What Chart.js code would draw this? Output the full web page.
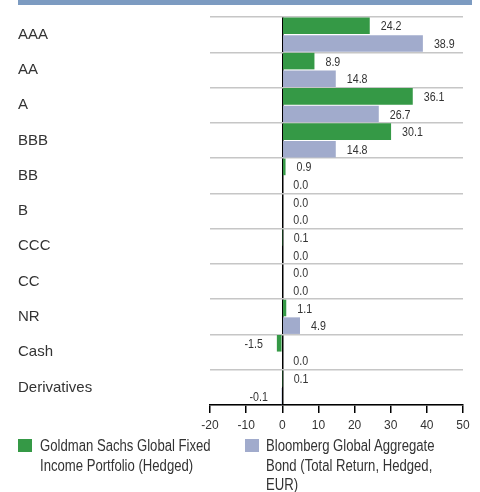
<!DOCTYPE html>
<html>
<head>
<meta charset="utf-8">
<script src="https://cdn.jsdelivr.net/npm/chart.js@4.4.1/dist/chart.umd.min.js"></script>
<style>
    body { margin: 0; background: #fff; }
    #wrap { position: relative; width: 480px; height: 492px; overflow: hidden;
            font-family: 'Liberation Sans', Arial, sans-serif; color: #333; }
    #topbar { position: absolute; left: 18px; top: 0; width: 454px; height: 5px; background: #7c9bc1; }
    #chart-box { position: absolute; left: 0; top: 0; width: 480px; height: 440px; }
    .legend-item { position: absolute; top: 436px; font-size: 16px; line-height: 19.5px; }
    .legend-item .sw { position: absolute; left: 0; top: 3px; width: 14px; height: 13px; }
    .legend-item .txt { position: absolute; white-space: nowrap; transform: scaleX(0.82); transform-origin: 0 0; }
</style>
</head>
<body>
<div id="wrap">
    <div id="topbar"></div>
    <div id="chart-box"><canvas id="bar-chart" width="480" height="440"></canvas></div>
    <div class="legend-item" style="left:18px">
        <div class="sw" style="background:#359946"></div>
        <div class="txt" style="left:22px">Goldman Sachs Global Fixed<br>Income Portfolio (Hedged)</div>
    </div>
    <div class="legend-item" style="left:245px">
        <div class="sw" style="background:#a1abcc"></div>
        <div class="txt" style="left:21px">Bloomberg Global Aggregate<br>Bond (Total Return, Hedged,<br>EUR)</div>
    </div>
</div>
<script>
// dati del grafico
const categorie = ['AAA', 'AA', 'A', 'BBB', 'BB', 'B', 'CCC', 'CC', 'NR', 'Cash', 'Derivatives'];
const portafoglio = [24.2, 8.9, 36.1, 30.1, 0.9, 0.0, 0.1, 0.0, 1.1, -1.5, 0.1];
const benchmark = [38.9, 14.8, 26.7, 14.8, 0.0, 0.0, 0.0, 0.0, 4.9, 0.0, -0.1];
const nomiSerie = ['Goldman Sachs Global Fixed Income Portfolio (Hedged)', 'Bloomberg Global Aggregate Bond (Total Return, Hedged, EUR)'];
const tickMin = -20;
const tickMax = 50;
const tickStep = 10;

const fontFamily = "'Liberation Sans', Arial, sans-serif";
Chart.defaults.font.family = fontFamily;
Chart.defaults.color = '#333';

// etichette dei valori accanto alle barre (testo "stretto" come nel modello)
const stretto = 0.82;
const etichettePlugin = {
    id: 'etichette',
    afterDatasetsDraw(chart) {
        const ctx = chart.ctx;
        ctx.save();
        ctx.font = '13px ' + fontFamily;
        ctx.fillStyle = '#333';
        ctx.textBaseline = 'middle';
        chart.data.datasets.forEach((ds, i) => {
            chart.getDatasetMeta(i).data.forEach((bar, j) => {
                const v = ds.data[j];
                const x = v < 0 ? bar.x - 14 : bar.x + 11;
                ctx.save();
                ctx.translate(x, bar.y + 1);
                ctx.scale(stretto, 1);
                ctx.textAlign = v < 0 ? 'right' : 'left';
                ctx.fillText(v.toFixed(1), 0, 0);
                ctx.restore();
            });
        });
        ctx.restore();
    }
};

new Chart(document.getElementById('bar-chart').getContext('2d'), {
    type: 'bar',
    data: {
        labels: categorie,
        datasets: [
            { label: nomiSerie[0], data: portafoglio, backgroundColor: '#359946' },
            { label: nomiSerie[1], data: benchmark, backgroundColor: '#a1abcc' }
        ]
    },
    options: {
        indexAxis: 'y',
        responsive: false,
        animation: false,
        layout: { padding: { left: 18, right: 17, top: 17, bottom: 0 } },
        datasets: { bar: { categoryPercentage: 1, barPercentage: 0.94 } },
        plugins: {
            legend: { display: false },
            tooltip: { enabled: false }
        },
        scales: {
            x: {
                min: tickMin,
                max: tickMax,
                afterFit(scale) { scale.height = 35; },
                ticks: { stepSize: tickStep, font: { size: 12 }, color: '#333', padding: 5 },
                grid: {
                    color: c => (c.tick && c.tick.value === 0) ? '#000' : 'rgba(0,0,0,0)',
                    lineWidth: 1.5,
                    tickColor: '#000',
                    tickLength: 8
                },
                border: { display: true, color: '#000', width: 1.5 }
            },
            y: {
                afterFit(scale) { scale.width = 192; },
                ticks: { crossAlign: 'far', font: { size: 15 }, color: '#333', padding: 0 },
                grid: { color: '#c6c6c6', lineWidth: 1.5, drawTicks: false, offset: true },
                border: { display: false }
            }
        }
    },
    plugins: [etichettePlugin]
});
</script>
</body>
</html>
